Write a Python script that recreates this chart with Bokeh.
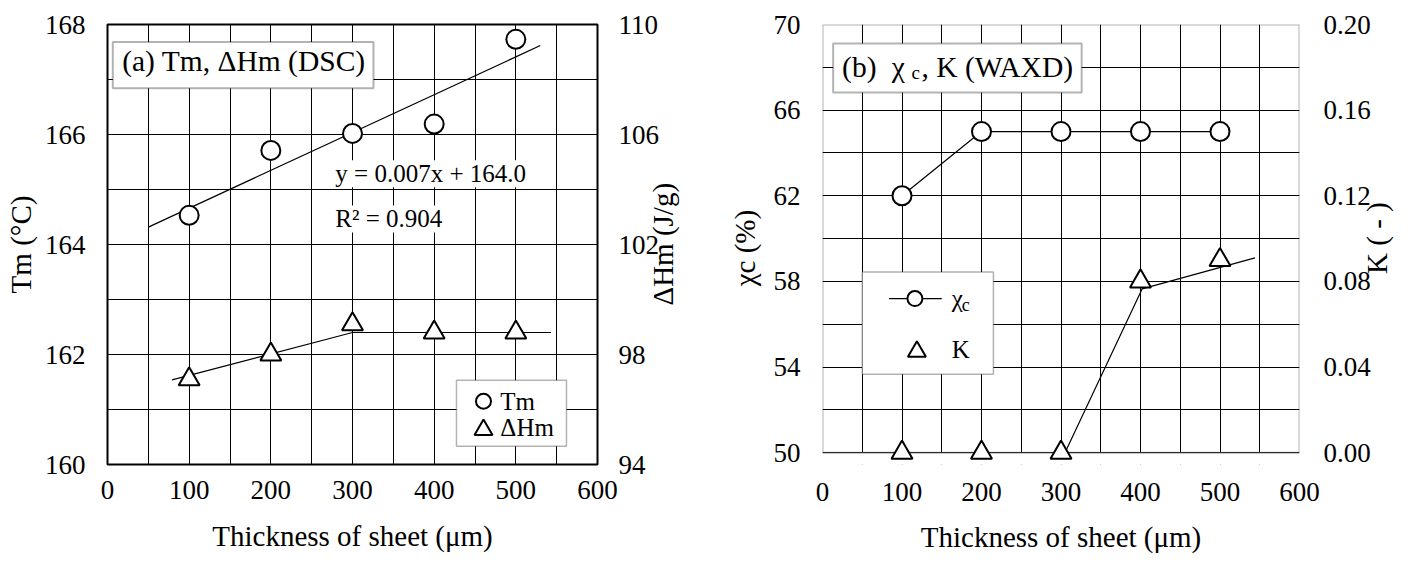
import numpy as np
from bokeh.plotting import figure
from bokeh.layouts import row
from bokeh.models import (Range1d, LinearAxis, FixedTicker, SingleIntervalTicker,
                          Label, BoxAnnotation, PrintfTickFormatter)
from bokeh.embed import file_html
from bokeh.resources import INLINE

SERIF = "Liberation Serif"

THICKNESS = [100, 200, 300, 400, 500]

# Panel (a): DSC melting point and heat of fusion
TM = [164.53, 165.71, 166.02, 166.19, 167.73]
DHM = [97.1, 98.0, 99.1, 98.8, 98.8]
TM_FIT_SPAN = [50, 530]
DHM_GUIDE_X = [79, 300, 543]
DHM_GUIDE_Y = [97.08, 98.8, 98.8]
FIT_EQUATION = "y = 0.007x + 164.0"
FIT_R2 = "R² = 0.904"

# Panel (b): WAXD crystallinity and K value
CHI_C = [62, 65, 65, 65, 65]
K_VALUE = [0.0, 0.0, 0.0, 0.08, 0.09]
K_GUIDE_X = [305, 402, 544]
K_GUIDE_Y = [0.0, 0.0765, 0.091]

X_TICKS = [0, 100, 200, 300, 400, 500, 600]
TM_TICKS = [160, 162, 164, 166, 168]
DHM_TICKS = [94, 98, 102, 106, 110]
CHI_TICKS = [50, 54, 58, 62, 66, 70]
K_TICKS = [0.0, 0.04, 0.08, 0.12, 0.16, 0.20]

TICK_SIZE = "27px"
TITLE_SIZE = "29px"


def style_axis(ax, standoff):
    ax.axis_line_color = None
    ax.major_tick_line_color = None
    ax.minor_tick_line_color = None
    ax.major_tick_out = 0
    ax.major_tick_in = 0
    ax.minor_tick_out = 0
    ax.minor_tick_in = 0
    ax.major_label_text_font = SERIF
    ax.major_label_text_font_size = TICK_SIZE
    ax.major_label_text_color = "black"
    ax.major_label_standoff = standoff


def set_title(ax, text, label_standoff):
    ax.axis_label = text
    ax.axis_label_text_font = SERIF
    ax.axis_label_text_font_size = TITLE_SIZE
    ax.axis_label_text_font_style = "normal"
    ax.axis_label_text_color = "black"
    ax.axis_label_standoff = label_standoff


def title_axis(p, range_name, start, text, standoff):
    # outer right-hand axis whose single tick label is the rotated title,
    # written upwards from `start`
    ax = LinearAxis(y_range_name=range_name, ticker=FixedTicker(ticks=[start]),
                    major_label_overrides={start: text})
    style_axis(ax, standoff)
    ax.major_label_text_font_size = TITLE_SIZE
    ax.major_label_orientation = np.pi / 2
    p.add_layout(ax, "right")
    return ax


def add_text(p, x, y, s, size, **kw):
    lab = Label(x=x, y=y, text=s, text_font=SERIF, text_font_size=size,
                text_color="black", **kw)
    p.add_layout(lab)
    return lab


def style_grid(p, x_step, y_step):
    p.xgrid.ticker = SingleIntervalTicker(interval=x_step)
    p.ygrid.ticker = SingleIntervalTicker(interval=y_step)
    for g in (p.xgrid, p.ygrid):
        g.grid_line_color = "black"
        g.grid_line_alpha = 1.0
        g.grid_line_width = 1


# ---------------- (a) Tm, ΔHm (DSC) ----------------
p1 = figure(width=710, height=567, x_range=Range1d(0, 600), y_range=Range1d(160, 168),
            output_backend="svg", toolbar_location=None,
            min_border_left=107, min_border_right=113, min_border_top=24, min_border_bottom=103)
p1.background_fill_color = "white"
p1.border_fill_color = "white"
p1.outline_line_color = "black"
p1.outline_line_width = 2
p1.extra_y_ranges = {"dhm": Range1d(94, 110)}
dhm_axis = LinearAxis(y_range_name="dhm", ticker=FixedTicker(ticks=DHM_TICKS))
p1.add_layout(dhm_axis, "right")
tm_axis = p1.left[0]
tm_axis.ticker = FixedTicker(ticks=TM_TICKS)
x1_axis = p1.below[0]
x1_axis.ticker = FixedTicker(ticks=X_TICKS)
style_axis(tm_axis, 22)
style_axis(dhm_axis, 21)
style_axis(x1_axis, 16)
set_title(tm_axis, "Tm (°C)", 5)
set_title(x1_axis, "Thickness of sheet (μm)", 18)
# frame is 440 px tall for 16 J/g; title is ~122 px long, centred on the axis
title_axis(p1, "dhm", 102 - 61 * 16 / 440, "ΔHm (J/g)", 0)
style_grid(p1, 50, 1)

# least-squares line through Tm
slope, intercept = np.polyfit(THICKNESS, TM, 1)
fit_x = np.array(TM_FIT_SPAN, dtype=float)
p1.line(fit_x, slope * fit_x + intercept, line_color="black", line_width=1.2)
p1.line(DHM_GUIDE_X, DHM_GUIDE_Y, y_range_name="dhm", line_color="black", line_width=1.2)
p1.scatter(THICKNESS, TM, marker="circle", size=19, fill_color="white",
           line_color="black", line_width=2)
p1.scatter(THICKNESS, DHM, marker="triangle", size=21, y_range_name="dhm",
           fill_color="white", line_color="black", line_width=2)

add_text(p1, 279, 165.04, FIT_EQUATION, "25px", background_fill_color="white")
add_text(p1, 279, 164.22, FIT_R2, "25px", background_fill_color="white")

p1.add_layout(BoxAnnotation(left=6.5, right=325.7, bottom=166.84, top=167.68,
                            fill_color="white", fill_alpha=1, line_color="black",
                            line_width=2))
add_text(p1, 18, 167.04, "(a) Tm, ΔHm (DSC)", "29.5px")

# legend
p1.add_layout(BoxAnnotation(left=427.3, right=562, bottom=160.33, top=161.53,
                            fill_color="white", fill_alpha=1, line_color="black",
                            line_width=1.5))
p1.scatter([460.4], [161.15], marker="circle", size=15, fill_color="white",
           line_color="black", line_width=2, level="overlay")
p1.scatter([460.4], [160.63], marker="triangle", size=18, fill_color="white",
           line_color="black", line_width=2, level="overlay")
add_text(p1, 481, 161.15, "Tm", "25px", text_baseline="middle")
add_text(p1, 481, 160.68, "ΔHm", "25px", text_baseline="middle")

# ---------------- (b) χc, K (WAXD) ----------------
EXT_PX = 12          # extra frame below the axis floor so markers at K = 0 are not cut
PLOT_PX = 436
chi_lo = 50 - 20 * EXT_PX / PLOT_PX
k_lo = -0.2 * EXT_PX / PLOT_PX

p2 = figure(width=702, height=567, x_range=Range1d(0, 600), y_range=Range1d(chi_lo, 70),
            output_backend="svg", toolbar_location=None,
            min_border_left=112, min_border_right=110, min_border_top=24,
            min_border_bottom=567 - 24 - PLOT_PX - EXT_PX)
p2.background_fill_color = "white"
p2.border_fill_color = "white"
p2.outline_line_color = None
p2.extra_y_ranges = {"k": Range1d(k_lo, 0.2)}
k_axis = LinearAxis(y_range_name="k", ticker=FixedTicker(ticks=K_TICKS),
                    formatter=PrintfTickFormatter(format="%.2f"))
p2.add_layout(k_axis, "right")
chi_axis = p2.left[0]
chi_axis.ticker = FixedTicker(ticks=CHI_TICKS)
x2_axis = p2.below[0]
x2_axis.ticker = FixedTicker(ticks=X_TICKS)
style_axis(chi_axis, 22)
style_axis(k_axis, 24)
style_axis(x2_axis, 18)
set_title(chi_axis, "χc  (%)", 10)
set_title(x2_axis, "Thickness of sheet (μm)", 17)
title_axis(p2, "k", 0.1 - 36 * 0.2 / PLOT_PX, "K ( - )", 4)
style_grid(p2, 50, 2)

# blank strip under the axis floor, then the plot border
p2.add_layout(BoxAnnotation(top=50, fill_color="white", fill_alpha=1, line_color=None,
                            level="underlay"))
p2.add_layout(BoxAnnotation(left=0, right=600, bottom=50, top=70, fill_alpha=0,
                            line_color="black", line_width=2, level="underlay"))

p2.line(THICKNESS, CHI_C, line_color="black", line_width=1.2)
p2.line(K_GUIDE_X, K_GUIDE_Y, y_range_name="k", line_color="black", line_width=1.2)
p2.scatter(THICKNESS, CHI_C, marker="circle", size=19, fill_color="white",
           line_color="black", line_width=2)
p2.scatter(THICKNESS, K_VALUE, marker="triangle", size=21, y_range_name="k",
           fill_color="white", line_color="black", line_width=2)

# title box
p2.add_layout(BoxAnnotation(left=13.4, right=326, bottom=66.82, top=69.11,
                            fill_color="white", fill_alpha=1, line_color="black",
                            line_width=2))
add_text(p2, 24.6, 67.29, "(b)", "29.5px")
add_text(p2, 87.1, 67.29, "χ", "29.5px")
add_text(p2, 112.0, 67.29, "c", "19px")
add_text(p2, 124.5, 67.29, ", K (WAXD)", "29.5px")

# legend
p2.add_layout(BoxAnnotation(left=50, right=215, bottom=53.67, top=58.44,
                            fill_color="white", fill_alpha=1, line_color="black",
                            line_width=1.5))
p2.line([83.75, 150], [57.2, 57.2], line_color="black", line_width=1.2, level="overlay")
p2.scatter([116.25], [57.2], marker="circle", size=15, fill_color="white",
           line_color="black", line_width=2, level="overlay")
p2.scatter([118.75], [54.72], marker="triangle", size=18, fill_color="white",
           line_color="black", line_width=2, level="overlay")
add_text(p2, 162.5, 57.2, "χ", "25px", text_baseline="middle")
add_text(p2, 175.0, 56.9, "c", "18px", text_baseline="middle")
add_text(p2, 162.5, 54.82, "K", "25px", text_baseline="middle")

layout = row(p1, p2)
open("out.html", "w").write(file_html(layout, INLINE))
